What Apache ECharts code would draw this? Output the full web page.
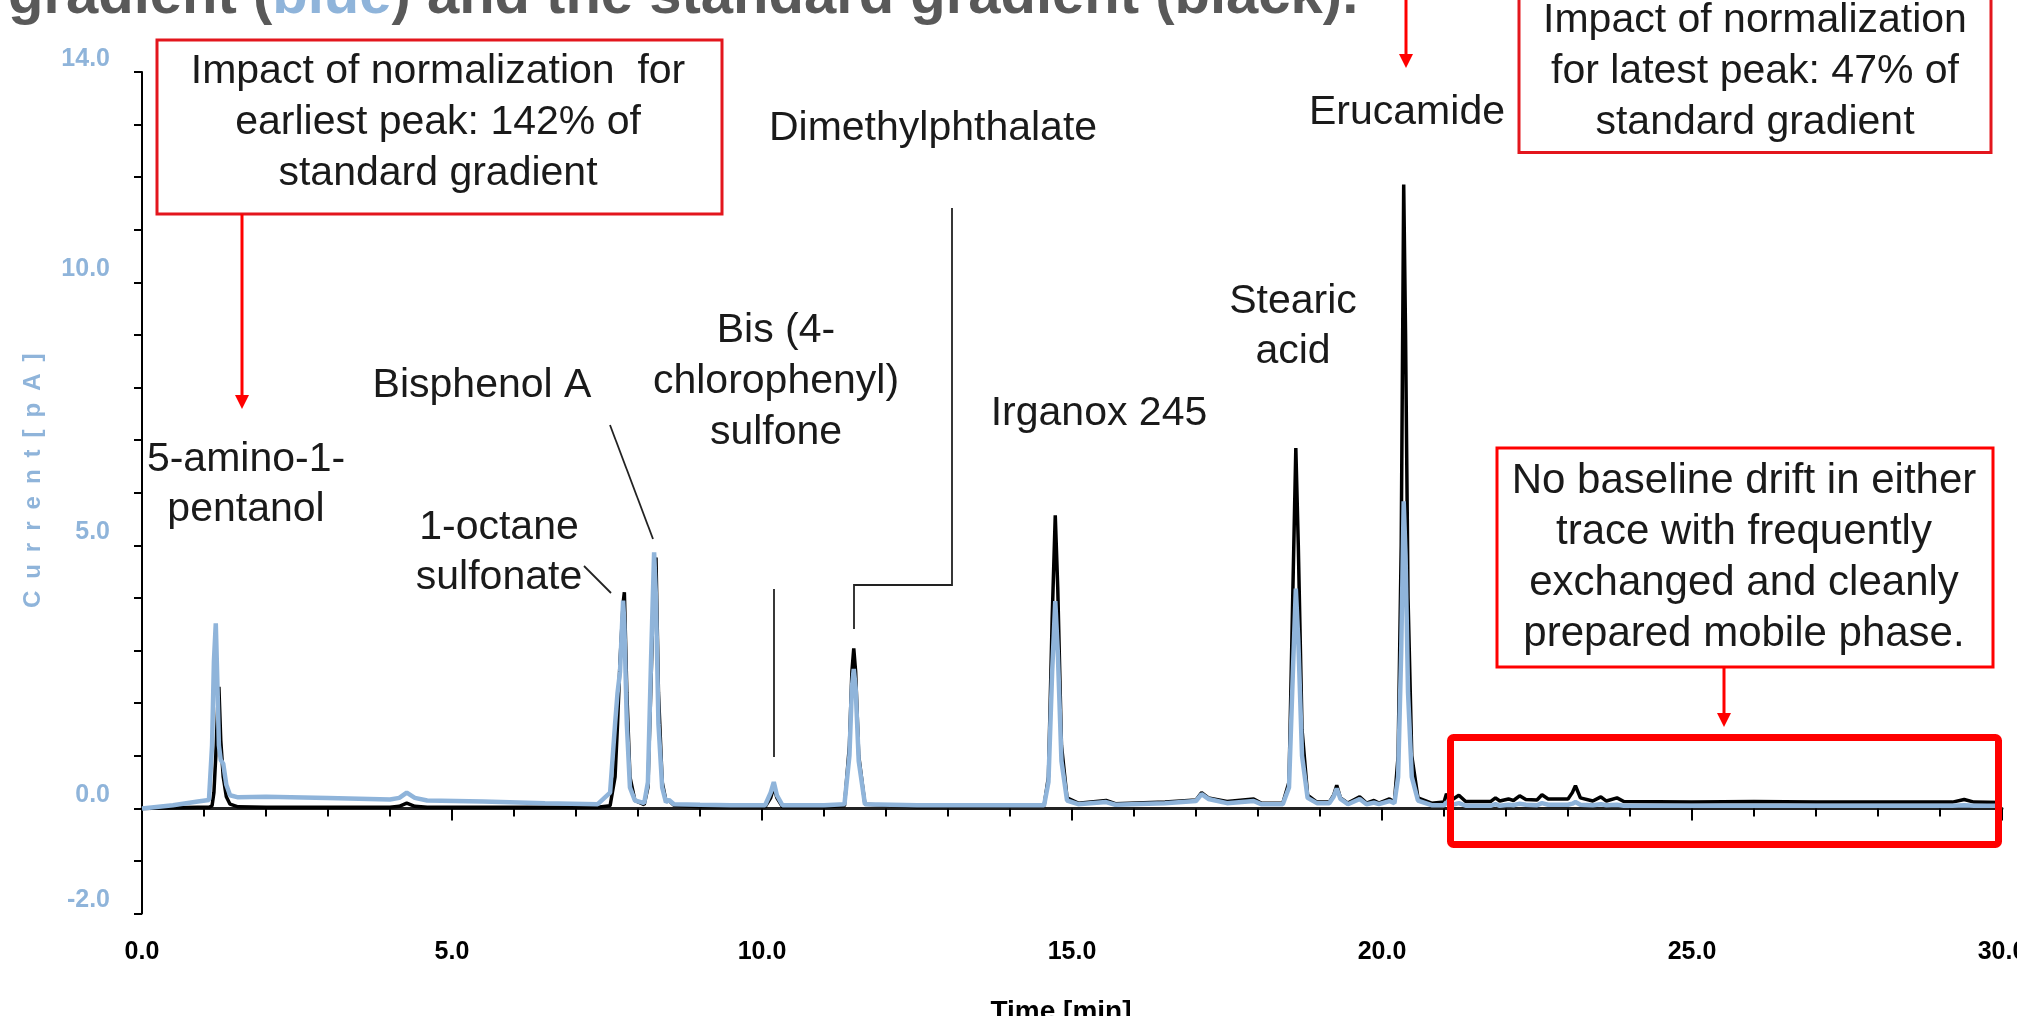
<!DOCTYPE html>
<html>
<head>
<meta charset="utf-8">
<script src="https://cdn.jsdelivr.net/npm/echarts@6/dist/echarts.min.js"></script>
<style>
html,body{margin:0;padding:0;background:#fff;}
#chart{width:2017px;height:1016px;}
</style>
</head>
<body>
<div id="chart"></div>
<script>
// ---- data (time in min, current in pA) ----
const timeMin = [
  0.0,0.5,0.9,1.08,1.13,1.16,1.19,1.22,1.24,1.27,1.31,1.36,1.42,1.55,
  2.0,3.0,4.0,4.15,4.27,4.4,4.6,5.5,6.5,7.35,
  7.55,7.63,7.67,7.71,7.76,7.78,7.82,7.87,7.95,8.1,8.16,8.21,8.26,8.29,8.33,8.39,8.45,8.5,8.58,
  9.0,9.5,10.05,10.14,10.19,10.24,10.33,11.0,11.33,11.41,11.45,11.48,11.51,11.56,11.66,
  12.5,13.5,14.55,14.62,14.68,14.73,14.77,14.83,14.92,15.1,15.55,15.7,16.5,17.0,17.09,17.2,17.5,17.93,18.05,
  18.4,18.5,18.56,18.61,18.65,18.71,18.8,18.95,19.15,19.22,19.27,19.33,19.45,19.64,19.75,19.87,19.95,20.12,20.2,
  20.26,20.31,20.35,20.38,20.42,20.48,20.58,20.8,21.0,
  21.04,21.1,21.24,21.35,21.75,21.83,21.9,22.04,22.12,22.22,22.32,22.5,22.58,22.68,23.0,23.07,23.12,23.2,23.4,23.53,23.62,23.79,23.9,25.0,26.0,27.0,28.0,29.2,29.39,29.55,30.0
];
// standard gradient (black)
const standardCurrent = [
  0.0,0.01,0.02,0.02,0.05,0.3,1.0,1.9,2.31,1.3,0.6,0.22,0.08,0.03,
  0.02,0.02,0.02,0.04,0.1,0.04,0.02,0.02,0.02,0.02,
  0.05,0.6,1.6,2.8,3.9,4.11,2.2,0.6,0.15,0.07,0.4,2.4,4.6,4.77,2.2,0.5,0.15,0.15,0.06,
  0.03,0.03,0.03,0.2,0.4,0.2,0.03,0.03,0.05,1.2,2.6,3.04,2.6,1.0,0.08,
  0.03,0.04,0.05,0.6,3.6,5.57,4.2,1.2,0.2,0.1,0.15,0.09,0.12,0.16,0.3,0.2,0.13,0.18,0.1,
  0.1,0.5,4.0,6.85,5.0,1.5,0.25,0.12,0.12,0.25,0.44,0.2,0.1,0.22,0.1,0.15,0.1,0.18,0.12,
  1.0,5.0,11.86,9.0,4.0,1.0,0.2,0.1,0.12,
  0.28,0.14,0.25,0.13,0.13,0.2,0.14,0.18,0.15,0.24,0.17,0.16,0.26,0.18,0.18,0.3,0.43,0.2,0.14,0.22,0.14,0.2,0.13,0.12,0.13,0.12,0.12,0.12,0.17,0.12,0.11
];
// normalized gradient (blue)
const normalizedCurrent = [
  0.0,0.06,0.13,0.16,1.2,2.8,3.52,2.2,1.2,0.92,0.85,0.45,0.25,0.21,
  0.22,0.2,0.17,0.2,0.3,0.2,0.15,0.13,0.1,0.08,
  0.3,1.6,2.2,2.6,3.95,3.5,1.6,0.4,0.15,0.1,0.5,2.8,4.87,4.0,1.6,0.4,0.12,0.16,0.08,
  0.07,0.06,0.06,0.3,0.5,0.25,0.06,0.06,0.08,1.0,2.3,2.65,2.3,0.9,0.08,
  0.06,0.06,0.06,0.5,2.6,3.94,3.0,0.9,0.15,0.08,0.12,0.07,0.1,0.14,0.27,0.18,0.1,0.14,0.08,
  0.08,0.4,2.5,4.18,3.2,1.0,0.2,0.1,0.1,0.22,0.38,0.18,0.08,0.18,0.08,0.11,0.08,0.14,0.1,
  0.6,3.0,5.84,4.8,2.2,0.6,0.15,0.06,0.06,
  0.12,0.06,0.1,0.05,0.05,0.08,0.05,0.07,0.06,0.09,0.07,0.06,0.1,0.07,0.07,0.09,0.12,0.07,0.06,0.08,0.06,0.07,0.05,0.05,0.05,0.05,0.05,0.05,0.06,0.05,0.05
];
const yTickLabels = [-2, 0, 5, 10, 14];
const xTickLabels = [0, 5, 10, 15, 20, 25, 30];

// ---- styles ----
const BLUE = '#8fb4da';
const TXT = '#1a1a1a';
const FONT = '"Liberation Sans", Arial, sans-serif';

function txt(x, y, s, lh, size) {
  return { type: 'text', x: x, y: y, z: 50, silent: true,
    style: { text: s, font: (size || 41) + 'px ' + FONT, fill: TXT, align: 'center', verticalAlign: 'middle', lineHeight: lh || 50 } };
}
function rect(x, y, w, h, color, lw) {
  return { type: 'rect', z: 40, silent: true, shape: { x: x, y: y, width: w, height: h },
    style: { fill: 'none', stroke: color, lineWidth: lw } };
}
function seg(pts, color, lw) {
  return { type: 'polyline', z: 40, silent: true, shape: { points: pts },
    style: { fill: 'none', stroke: color, lineWidth: lw } };
}
function arrow(x, y0, y1) {
  return [
    seg([[x, y0], [x, y1 - 13]], '#ff0000', 3),
    { type: 'polygon', z: 41, silent: true, shape: { points: [[x - 7, y1 - 14], [x + 7, y1 - 14], [x, y1]] },
      style: { fill: '#ff0000' } }
  ];
}

const chart = echarts.init(document.getElementById('chart'), null, { renderer: 'canvas' });

const graphics = [
  { type: 'text', x: 8, y: -3, z: 50, silent: true,
    style: {
      text: '{g|gradient (}{b|blue}{g|) and the standard gradient (black).}',
      verticalAlign: 'middle', align: 'left',
      rich: {
        g: { font: 'bold 58px ' + FONT, fill: '#595959', fontSize: 58, fontWeight: 'bold', fontFamily: FONT },
        b: { font: 'bold 58px ' + FONT, fill: BLUE, fontSize: 58, fontWeight: 'bold', fontFamily: FONT }
      }
    } },
  // box 1
  rect(157, 40, 565, 174, '#e3161d', 3),
  txt(438, 123, 'Impact of normalization  for\nearliest peak: 142% of\nstandard gradient', 51),
  ...arrow(242, 214, 409),
  // box 2
  rect(1519, -10, 472, 162.5, '#e3161d', 3),
  txt(1755, 72, 'Impact of normalization\nfor latest peak: 47% of\nstandard gradient', 51),
  ...arrow(1406, 0, 68),
  // box 3
  rect(1497, 448, 496, 219, '#ff0000', 3),
  txt(1744, 558, 'No baseline drift in either\ntrace with frequently\nexchanged and cleanly\nprepared mobile phase.', 51, 42),
  ...arrow(1724, 668, 727),
  // big box
  { type: 'rect', z: 40, silent: true, shape: { x: 1450.5, y: 737.5, width: 548, height: 107, r: 3 },
    style: { fill: 'none', stroke: '#ff0000', lineWidth: 7 } },
  // peak labels
  txt(246, 485, '5-amino-1-\npentanol'),
  txt(482, 386, 'Bisphenol A'),
  txt(499, 553, '1-octane\nsulfonate'),
  txt(776, 382, 'Bis (4-\nchlorophenyl)\nsulfone', 51),
  txt(933, 129, 'Dimethylphthalate'),
  txt(1099, 414, 'Irganox 245'),
  txt(1293, 327, 'Stearic\nacid'),
  txt(1407, 113, 'Erucamide'),
  // leader lines
  seg([[610, 425], [653, 539]], '#222', 1.8),
  seg([[584, 566], [611, 593]], '#222', 1.8),
  seg([[774, 589], [774, 757]], '#222', 1.8),
  seg([[952, 208], [952, 585], [854, 585], [854, 629]], '#222', 1.8)
];

const option = {
  animation: false,
  backgroundColor: '#ffffff',
  grid: { left: 142, right: 15, top: 72, bottom: 102.4, containLabel: false, outerBoundsMode: 'none' },
  xAxis: {
    type: 'value', min: 0, max: 30, interval: 5, offset: 9,
    axisLine: { show: true, lineStyle: { color: '#222', width: 3 } },
    axisTick: { show: true, length: 12, lineStyle: { color: '#000', width: 2 } },
    minorTick: { show: true, splitNumber: 5, length: 8, lineStyle: { color: '#000', width: 2 } },
    splitLine: { show: false }, minorSplitLine: { show: false },
    axisLabel: {
      formatter: v => xTickLabels.includes(v) ? v.toFixed(1) : '',
      color: '#000', fontWeight: 'bold', fontSize: 25, fontFamily: FONT, margin: 17,
      showMinLabel: true, showMaxLabel: true
    },
    name: 'Time [min]', nameLocation: 'middle', nameGap: 76,
    nameTextStyle: { color: '#000', fontWeight: 'bold', fontSize: 28, fontFamily: FONT, padding: [0, 22, 0, 0] }
  },
  yAxis: {
    type: 'value', min: -2, max: 14, interval: 1, offset: 7,
    axisLine: { show: true, lineStyle: { color: '#000', width: 2 } },
    axisTick: { show: true, length: 8, lineStyle: { color: '#000', width: 2 } },
    splitLine: { show: false },
    axisLabel: {
      formatter: v => yTickLabels.includes(v) ? v.toFixed(1) : '',
      color: BLUE, fontWeight: 'bold', fontSize: 25, fontFamily: FONT, margin: 25,
      verticalAlign: 'bottom', lineHeight: 26
    },
    name: 'C\u2002u\u2002r\u2002r\u2002e\u2002n\u2002t\u2002[\u2002p\u2002A\u2002]',
    nameLocation: 'middle', nameGap: 90,
    nameTextStyle: { color: BLUE, fontWeight: 'bold', fontSize: 24, fontFamily: FONT, padding: [0, 0, 0, 24] }
  },
  series: [
    { name: 'standard gradient', type: 'line', showSymbol: false, symbol: 'none',
      data: timeMin.map((t, i) => [t, standardCurrent[i]]),
      lineStyle: { color: '#000', width: 3.5 }, itemStyle: { color: '#000' }, z: 2 },
    { name: 'normalized gradient', type: 'line', showSymbol: false, symbol: 'none',
      data: timeMin.map((t, i) => [t, normalizedCurrent[i]]),
      lineStyle: { color: BLUE, width: 4.5 }, itemStyle: { color: BLUE }, z: 3 }
  ],
  graphic: graphics
};
chart.setOption(option);
</script>
</body>
</html>
